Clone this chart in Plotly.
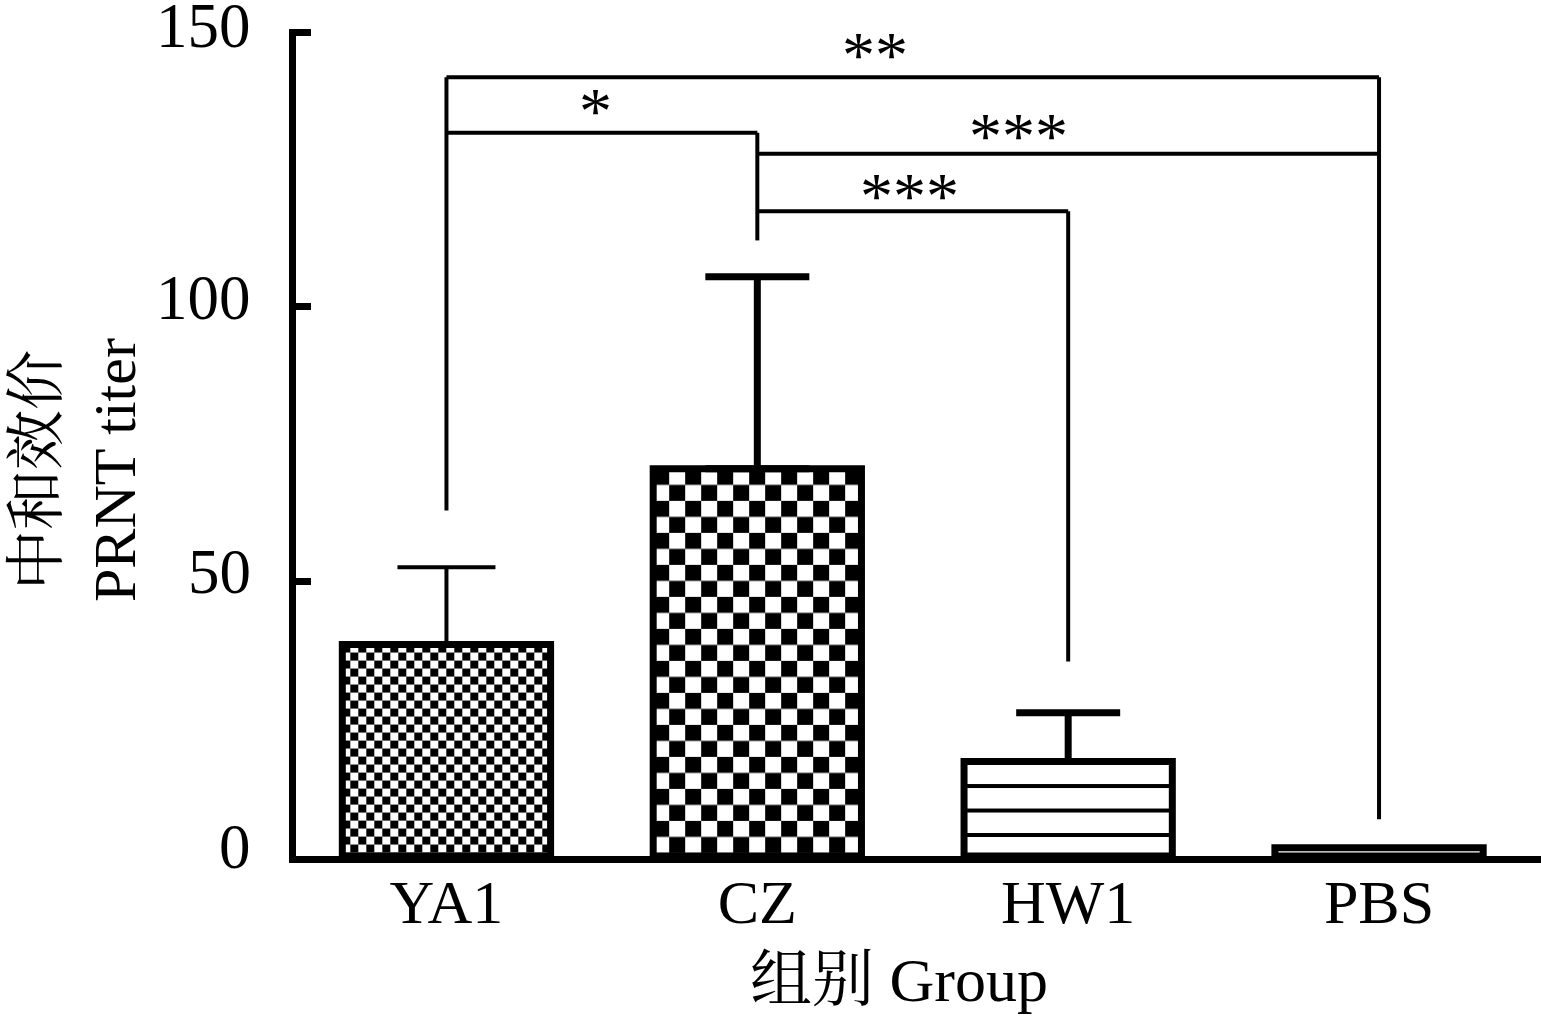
import base64
import plotly.graph_objects as go

# ---------------- data ----------------
categories = ["YA1", "CZ", "HW1", "PBS"]
means = [38.5, 70.5, 17.2, 1.5]
errors = [14.1, 35.0, 8.9, 0.0]
y_ticks = [0, 50, 100, 150]

# significance brackets (category index pairs, bracket level in data units)
bracket_pairs = [(0, 3), (0, 1), (1, 3), (1, 2)]
bracket_levels = [141.8, 131.7, 127.9, 117.4]
bracket_labels = ["**", "*", "***", "***"]
label_x = [1.38, 0.48, 1.84, 1.49]
label_y = [145.9, 135.8, 131.2, 120.3]
leg_tops = [141.8, 131.7, 117.4, 141.8]
leg_bottoms = [62.9, 112.1, 35.4, 6.7]

# ---------------- styling ----------------
W, H = 1541, 1017
ML, MR, MT, MB = 296, 0, 29, 161
X_RANGE = [-0.484, 3.521]
Y_RANGE = [0, 150.6]
BAR_W = 0.67
plot_w = W - ML - MR
plot_h = H - MT - MB
px_x = plot_w / (X_RANGE[1] - X_RANGE[0])
px_y = plot_h / (Y_RANGE[1] - Y_RANGE[0])

fills = ["checker8", "checker16", "stripes", "white"]
err_thick = [4, 7, 7, 7]
err_width = [49, 52, 52, 52]
tick_label_shift = [9, 9, 9, 6]

SERIF = "Liberation Serif, Times New Roman, serif"
CJK = "Liberation Serif, Noto Serif CJK SC, Noto Sans CJK SC, serif"


def svg_uri(kind, w, h):
    w = max(w, 1)
    h = max(h, 1)
    if kind.startswith("checker"):
        c = float(kind.replace("checker", ""))
        pat = (f'<pattern id="p" width="{2*c}" height="{2*c}" patternUnits="userSpaceOnUse">'
               f'<rect width="{2*c}" height="{2*c}" fill="white"/>'
               f'<rect width="{c}" height="{c}" fill="black"/>'
               f'<rect x="{c}" y="{c}" width="{c}" height="{c}" fill="black"/></pattern>')
        body = f'<defs>{pat}</defs><rect width="{w}" height="{h}" fill="url(#p)"/>'
    elif kind == "stripes":
        lines = ""
        yy = 24.5
        while yy < h - 8:
            lines += f'<rect x="0" y="{yy-2}" width="{w}" height="4" fill="black"/>'
            yy += 24.5
        body = f'<rect width="{w}" height="{h}" fill="white"/>' + lines
    else:
        body = f'<rect width="{w}" height="{h}" fill="white"/>'
    svg = (f'<svg xmlns="http://www.w3.org/2000/svg" width="{w:.1f}" height="{h:.1f}" '
           f'viewBox="0 0 {w:.1f} {h:.1f}" preserveAspectRatio="none">{body}</svg>')
    return "data:image/svg+xml;base64," + base64.b64encode(svg.encode()).decode()


fig = go.Figure()
images = []
for i, (cat, m, e) in enumerate(zip(categories, means, errors)):
    fig.add_trace(go.Bar(
        x=[i], y=[m], width=BAR_W,
        marker=dict(color="rgba(0,0,0,0)", line=dict(color="black", width=7)),
        error_y=dict(type="data", array=[e], arrayminus=[0], symmetric=False,
                     visible=e > 0, color="black", thickness=err_thick[i],
                     width=err_width[i]),
        showlegend=False, hoverinfo="skip", name=cat,
    ))
    images.append(dict(
        source=svg_uri(fills[i], BAR_W * px_x, m * px_y),
        xref="x", yref="y", x=i - BAR_W / 2, y=m, sizex=BAR_W, sizey=m,
        xanchor="left", yanchor="top", sizing="stretch", layer="below",
    ))

shapes = []
for (a, b), lvl in zip(bracket_pairs, bracket_levels):
    shapes.append(dict(type="line", xref="x", yref="y", x0=a, x1=b, y0=lvl, y1=lvl,
                       line=dict(color="black", width=4)))
for i, (t, btm) in enumerate(zip(leg_tops, leg_bottoms)):
    shapes.append(dict(type="line", xref="x", yref="y", x0=i, x1=i, y0=t, y1=btm,
                       line=dict(color="black", width=4)))

annotations = []
for txt, lx, ly in zip(bracket_labels, label_x, label_y):
    annotations.append(dict(text=txt, x=lx, y=ly, xref="x", yref="y",
                            showarrow=False, xanchor="center", yanchor="middle",
                            font=dict(family=SERIF, size=66, color="black")))
# y tick labels (placed as annotations so they sit slightly above their ticks)
for t, s in zip(y_ticks, tick_label_shift):
    annotations.append(dict(text=str(t), x=(253 - ML) / plot_w, y=t, xref="paper", yref="y",
                            showarrow=False, xanchor="right", yanchor="middle", yshift=s,
                            height=50, valign="middle",
                            font=dict(family=SERIF, size=63, color="black")))
annotations.append(dict(text="中和效价<br>PRNT titer", textangle=-90,
                        x=(76 - ML) / plot_w, y=(MT + plot_h - 470) / plot_h,
                        xref="paper", yref="paper", showarrow=False,
                        xanchor="center", yanchor="middle",
                        font=dict(family=CJK, size=60, color="black")))
annotations.append(dict(text="组别 Group",
                        x=(899 - ML) / plot_w, y=(MT + plot_h - 980) / plot_h,
                        xref="paper", yref="paper", showarrow=False,
                        xanchor="center", yanchor="middle",
                        font=dict(family=CJK, size=62, color="black")))

fig.update_layout(
    width=W, height=H, margin=dict(l=ML, r=MR, t=MT, b=MB, pad=0),
    paper_bgcolor="white", plot_bgcolor="white",
    barmode="overlay", images=images, shapes=shapes, annotations=annotations,
    font=dict(family=SERIF, color="black"),
)
fig.update_xaxes(range=X_RANGE, tickvals=list(range(len(categories))), ticktext=categories,
                 showline=True, linecolor="black", linewidth=7, ticks="",
                 showgrid=False, zeroline=False, tickfont=dict(family=SERIF, size=62),
                 ticklabelstandoff=-14, ticklabeloverflow="allow")
fig.update_yaxes(range=Y_RANGE, tickvals=y_ticks, showline=True, linecolor="black",
                 linewidth=7, ticks="inside", ticklen=15, tickwidth=7, tickcolor="black",
                 showgrid=False, zeroline=False, showticklabels=False)

fig.write_html("out.html", config={"displayModeBar": False},
               post_script="document.body.style.margin='0';document.body.style.overflow='hidden';")
